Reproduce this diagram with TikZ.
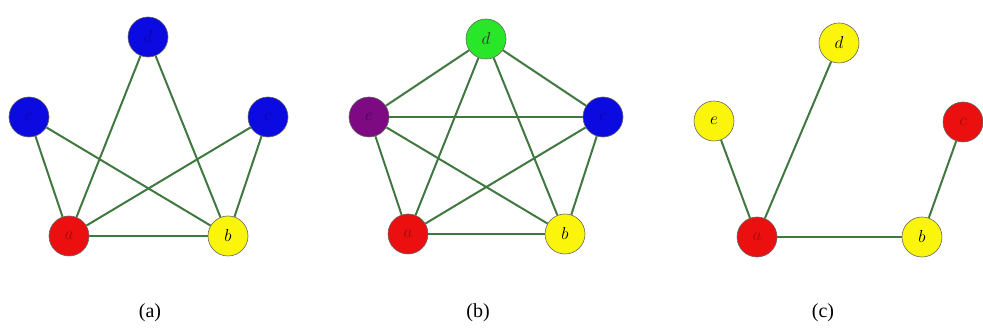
\documentclass[tikz,border=0pt]{standalone}
\usepackage{fontspec}
\newfontfamily\capfont{Liberation Serif}
\usetikzlibrary{backgrounds}
\definecolor{ebl}{RGB}{10,10,225}
\definecolor{ered}{RGB}{235,15,15}
\definecolor{eyel}{RGB}{250,245,10}
\definecolor{egrn}{RGB}{40,230,40}
\definecolor{epur}{RGB}{125,10,130}
\definecolor{edge}{RGB}{65,120,65}
\tikzset{
  vtx/.style={circle,minimum size=40pt,inner sep=0pt,draw=black!60,line width=0.6pt,font=\fontsize{16}{16}\selectfont},
  vblue/.style={vtx,fill=ebl,text=ebl!75!black},
  vred/.style={vtx,fill=ered,text=ered!70!black},
  vyel/.style={vtx,fill=eyel,text=black},
  vgrn/.style={vtx,fill=egrn,text=black!80},
  vpur/.style={vtx,fill=epur,text=epur!60!black},
  gedge/.style={draw=edge,line width=2pt},
  captext/.style={font=\capfont\fontsize{20}{20}\selectfont}
}
\begin{document}
\begin{tikzpicture}[x=1pt,y=-1pt]
\useasboundingbox (0,0) rectangle (983,336);
% (a)
\node[vblue] (ad) at (148,37) {$d$};
\node[vblue] (ae) at (29,117) {$e$};
\node[vblue] (ac) at (268,117) {$c$};
\node[vred] (aa) at (69,236) {$a$};
\node[vyel] (ab) at (228,236) {$b$};
% (b)
\node[vgrn] (bd) at (486,39) {$d$};
\node[vpur] (be) at (369,117) {$e$};
\node[vblue] (bc) at (603,117) {$c$};
\node[vred] (ba) at (408,234) {$a$};
\node[vyel] (bb) at (565,234) {$b$};
% (c)
\node[vyel] (cd) at (839,43) {$d$};
\node[vyel] (ce) at (714,121) {$e$};
\node[vred] (cc) at (963,122) {$c$};
\node[vred] (ca) at (757,237) {$a$};
\node[vyel] (cb) at (922,237) {$b$};
% captions
\node[captext] (capa) at (150,313) {(a)};
\node[captext] (capb) at (478,313) {(b)};
\node[captext] (capc) at (823,313) {(c)};
\begin{scope}[on background layer]
\draw[gedge] (ad) -- (aa);
\draw[gedge] (ad) -- (ab);
\draw[gedge] (ae) -- (aa);
\draw[gedge] (ae) -- (ab);
\draw[gedge] (ac) -- (aa);
\draw[gedge] (ac) -- (ab);
\draw[gedge] (aa) -- (ab);
\draw[gedge] (bd) -- (be);
\draw[gedge] (bd) -- (bc);
\draw[gedge] (bd) -- (ba);
\draw[gedge] (bd) -- (bb);
\draw[gedge] (be) -- (bc);
\draw[gedge] (be) -- (ba);
\draw[gedge] (be) -- (bb);
\draw[gedge] (bc) -- (ba);
\draw[gedge] (bc) -- (bb);
\draw[gedge] (ba) -- (bb);
\draw[gedge] (ca) -- (ce);
\draw[gedge] (ca) -- (cd);
\draw[gedge] (ca) -- (cb);
\draw[gedge] (cb) -- (cc);
\end{scope}
\end{tikzpicture}
\end{document}
